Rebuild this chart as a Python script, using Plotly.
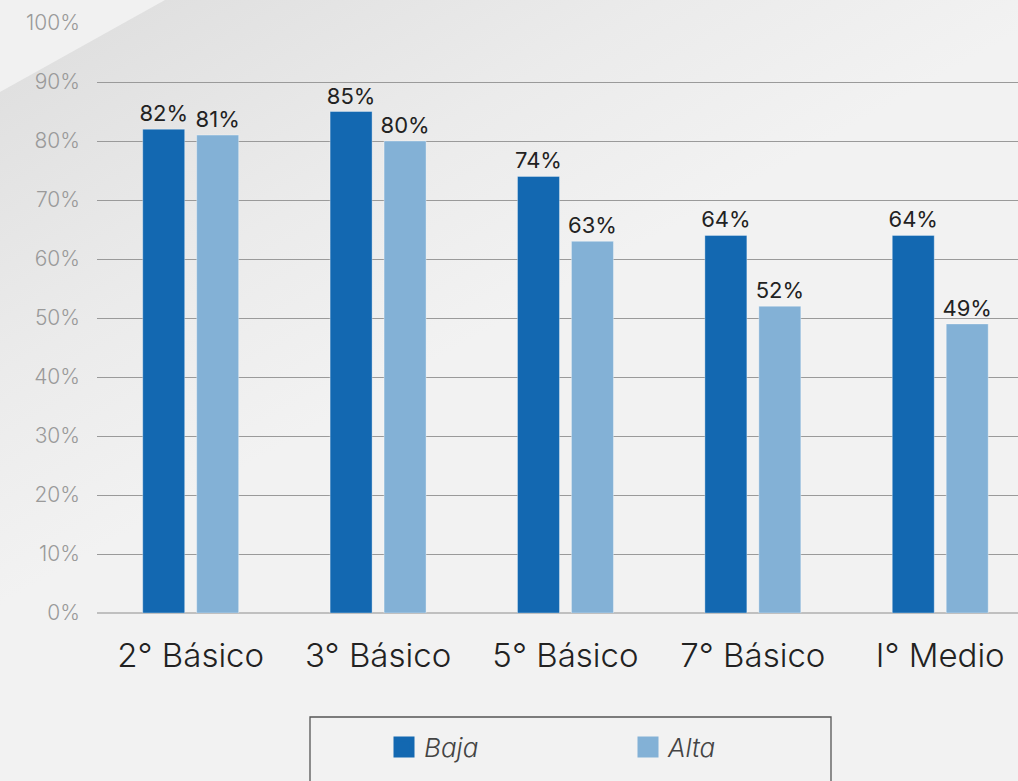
import base64
import plotly.graph_objects as go

categories = ["2° Básico", "3° Básico", "5° Básico", "7° Básico", "I° Medio"]
baja = [82, 85, 74, 64, 64]
alta = [81, 80, 63, 52, 49]
series_names = ["Baja", "Alta"]
series_colors = ["#1368b1", "#83b1d6"]
y_ticks = [0, 10, 20, 30, 40, 50, 60, 70, 80, 90, 100]

W, H = 1018, 781
L, R, T, B = 97, 0, 23, 168
PW, PH = W - L - R, H - T - B

def px_x(p):
    return (p - L) / PW

def px_y(p):
    return (H - B - p) / PH

svg = f"""<svg xmlns='http://www.w3.org/2000/svg' width='{W}' height='{H}'>
<defs><linearGradient id='g' gradientUnits='userSpaceOnUse' x1='80' y1='45' x2='300' y2='437'>
<stop offset='0' stop-color='#e0e0e0'/><stop offset='0.55' stop-color='#ebebeb'/><stop offset='1' stop-color='#f2f2f2'/>
</linearGradient></defs>
<rect width='{W}' height='{H}' fill='url(#g)'/>
<polygon points='0,0 165,0 0,92' fill='#f1f1f1'/>
</svg>"""
src = "data:image/svg+xml;base64," + base64.b64encode(svg.encode()).decode()

FONT = "Inter, Roboto, sans-serif"

fig = go.Figure()
for name, vals, col in zip(series_names, [baja, alta], series_colors):
    fig.add_bar(
        x=categories, y=vals, name=name, legendgroup=name, showlegend=False,
        marker=dict(color=col, line=dict(color="rgba(255,255,255,0.35)", width=1)),
        text=[f"{v}%" for v in vals], textposition="outside", cliponaxis=False,
        constraintext="none",
        textfont=dict(family=FONT, size=22, color="#222222"),
    )
# legend entries with larger square swatches
for name, col in zip(series_names, series_colors):
    fig.add_scatter(
        x=[None], y=[None], mode="markers", name=name, legendgroup=name,
        marker=dict(symbol="square", size=16, color=col, line=dict(color=col, width=5)),
        hoverinfo="skip",
    )

fig.update_layout(
    width=W, height=H,
    margin=dict(l=L, r=R, t=T, b=B, pad=0),
    paper_bgcolor="#f2f2f2",
    plot_bgcolor="rgba(0,0,0,0)",
    barmode="group",
    bargap=0.424,
    bargroupgap=0.222,
    showlegend=True,
    legend=dict(
        orientation="h",
        itemsizing="trace",
        x=px_x(384), xanchor="left",
        y=px_y(747), yanchor="middle",
        entrywidth=199, entrywidthmode="pixels",
        font=dict(family=FONT, size=26, color="#444444", style="italic", weight=300),
        bgcolor="rgba(0,0,0,0)",
        borderwidth=0,
    ),
    images=[dict(
        source=src, xref="paper", yref="paper",
        x=px_x(0), y=px_y(0), sizex=W / PW, sizey=H / PH,
        xanchor="left", yanchor="top", sizing="stretch", layer="below",
    )],
    shapes=[dict(
        type="rect", xref="paper", yref="paper",
        x0=px_x(310), x1=px_x(831), y0=px_y(717), y1=px_y(800),
        line=dict(color="#555555", width=1.3), fillcolor="rgba(0,0,0,0)",
        layer="above",
    )],
)

fig.update_xaxes(
    range=[-0.5, 4.415],
    showgrid=False, showline=False, zeroline=False,
    ticks="", ticklabelstandoff=20,
    tickfont=dict(family=FONT, size=33, color="#222222", weight=300),
)
fig.update_yaxes(
    range=[0, 100],
    tickvals=y_ticks, ticktext=[f"{v}%" for v in y_ticks],
    showgrid=True, gridcolor="#9a9a9a", gridwidth=1,
    zeroline=True, zerolinecolor="#c0c0c0", zerolinewidth=2,
    ticks="", ticklabelstandoff=16,
    tickfont=dict(family=FONT, size=21, color="#9a9a9a", weight=300),
)

fig.write_html(
    "out.html",
    config={"displayModeBar": False},
    post_script="document.body.style.margin='0';document.body.style.overflow='hidden';",
)
